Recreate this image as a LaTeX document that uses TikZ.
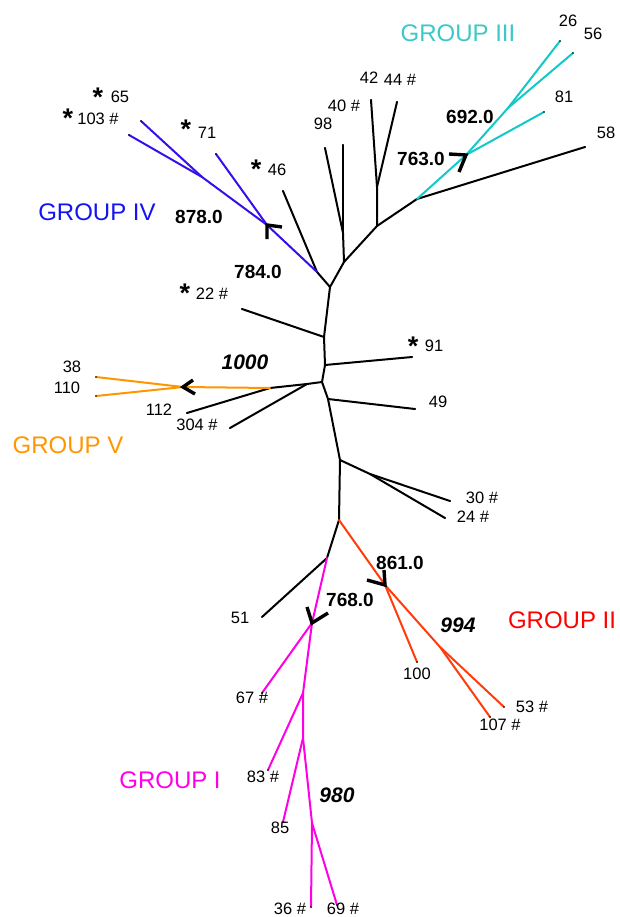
\documentclass[tikz,border=0pt]{standalone}
\usepackage{fontspec}
\usetikzlibrary{calc}
\setmainfont{Liberation Sans}
\definecolor{gIV}{RGB}{55,15,235}
\definecolor{gIVt}{RGB}{20,20,240}
\definecolor{gIII}{RGB}{20,200,200}
\definecolor{gIIIt}{RGB}{60,200,200}
\definecolor{gV}{RGB}{255,150,0}
\definecolor{gII}{RGB}{255,60,10}
\definecolor{gIIt}{RGB}{255,0,0}
\definecolor{gI}{RGB}{255,0,230}
\newcommand\lfnt{\fontsize{16.5}{16.5}\selectfont}
\newcommand\gfnt{\fontsize{24}{24}\selectfont}
\newcommand\bfnt{\fontsize{19}{19}\bfseries\selectfont}
\newcommand\bifnt{\fontsize{21}{21}\bfseries\itshape\selectfont}
\newcommand\astfnt{\fontsize{27}{27}\bfseries\selectfont}
\tikzset{
  br/.style={line width=2pt, line join=round, line cap=round},
  mk/.style={line width=3.4pt, line join=miter, black},
  leaf/.style={inner sep=0pt, font=\lfnt},
  grp/.style={inner sep=0pt, font=\gfnt},
  supv/.style={inner sep=0pt, font=\bfnt},
  supi/.style={inner sep=0pt, font=\bifnt},
  ast/.style={inner sep=0pt, font=\astfnt, anchor=base},
  tip/.style={circle, fill=black, inner sep=0pt, minimum size=1.6pt}
}
\begin{document}
\begin{tikzpicture}[x=1pt,y=-1pt]
\useasboundingbox (0,0) rectangle (619,917);
% ---- internal nodes
\coordinate (A) at (330,287);
\coordinate (B) at (317,272);
\coordinate (C) at (344,262);
\coordinate (D) at (343,233);
\coordinate (E) at (377,226);
\coordinate (F) at (377,187);
\coordinate (G) at (417,199);
\coordinate (H) at (324,337);
\coordinate (I) at (325,365);
\coordinate (J) at (322,382);
\coordinate (K) at (307,384);
\coordinate (M) at (270,388);
\coordinate (N) at (183,387);
\coordinate (O) at (328,399);
\coordinate (P) at (340,460);
\coordinate (Q) at (370,474);
\coordinate (R) at (339,520);
\coordinate (S) at (327,558);
\coordinate (T) at (312,623);
\coordinate (U) at (303,693);
\coordinate (V) at (303,738);
\coordinate (W) at (312,823);
\coordinate (X) at (385,585);
\coordinate (Y) at (440,647);
\coordinate (Z) at (267,225);
\coordinate (ZZ) at (202,177);
\coordinate (AA) at (466,155);
\coordinate (BB) at (508,108);
% ---- leaves
\coordinate (l46) at (283,191);
\coordinate (l98) at (325,148);
\coordinate (l40) at (343,145);
\coordinate (l42) at (371,100);
\coordinate (l44) at (397,102);
\coordinate (l58) at (585,147);
\coordinate (l22) at (242,309);
\coordinate (l91) at (412,357);
\coordinate (l304) at (230,428);
\coordinate (l112) at (187,413);
\coordinate (l38) at (96,377);
\coordinate (l110) at (96,396);
\coordinate (l49) at (415,409);
\coordinate (l30) at (450,501);
\coordinate (l24) at (445,518);
\coordinate (l51) at (262,617);
\coordinate (l67) at (262,693);
\coordinate (l83) at (268,770);
\coordinate (l85) at (283,822);
\coordinate (l36) at (311,907);
\coordinate (l69) at (337,905);
\coordinate (l100) at (417,662);
\coordinate (l53) at (504,707);
\coordinate (l107) at (490,717);
\coordinate (l71) at (216,154);
\coordinate (l65) at (141,121);
\coordinate (l103) at (129,135);
\coordinate (l81) at (544,112);
\coordinate (l26) at (560,41);
\coordinate (l56) at (573,53);
% ---- black branches
\draw[br] (B) -- (A) -- (C) -- (D);
\draw[br] (B) -- (l46);
\draw[br] (D) -- (l98);
\draw[br] (D) -- (l40);
\draw[br] (C) -- (E) -- (F) -- (l42);
\draw[br] (F) -- (l44);
\draw[br] (E) -- (G) -- (l58);
\draw[br] (A) -- (H) -- (I) -- (J) -- (O) -- (P) -- (R) -- (S) -- (l51);
\draw[br] (H) -- (l22);
\draw[br] (I) -- (l91);
\draw[br] (J) -- (K) -- (M) -- (l112);
\draw[br] (K) -- (l304);
\draw[br] (O) -- (l49);
\draw[br] (P) -- (Q) -- (l30);
\draw[br] (Q) -- (l24);
% ---- group IV (blue)
\draw[br, gIV] (B) -- (Z) -- (ZZ) -- (l65);
\draw[br, gIV] (ZZ) -- (l103);
\draw[br, gIV] (Z) -- (l71);
% ---- group III (cyan)
\draw[br, gIII] (G) -- (AA) -- (BB) -- (l26);
\draw[br, gIII] (BB) -- (l56);
\draw[br, gIII] (AA) -- (l81);
% ---- group V (orange)
\draw[br, gV] (M) -- (N) -- (l38);
\draw[br, gV] (N) -- (l110);
% ---- group II (red-orange)
\draw[br, gII] (R) -- (X) -- (Y) -- (l53);
\draw[br, gII] (Y) -- (l107);
\draw[br, gII] (X) -- (l100);
% ---- group I (magenta)
\draw[br, gI] (S) -- (T) -- (U) -- (V) -- (W) -- (l36);
\draw[br, gI] (W) -- (l69);
\draw[br, gI] (T) -- (l67);
\draw[br, gI] (U) -- (l83);
\draw[br, gI] (V) -- (l85);
% ---- leaf tips
\foreach \t in {l46,l98,l40,l42,l44,l58,l22,l91,l304,l112,l38,l110,l49,l30,l24,l51,l67,l83,l85,l36,l69,l100,l53,l107,l71,l65,l103,l81,l26,l56}
  \node[tip] at (\t) {};
% ---- support markers
\draw[mk] ($(AA)+(-17,-1)$) -- (AA) -- ($(AA)+(-7,17)$);
\draw[mk] ($(Z)+(0,14)$) -- (Z) -- ($(Z)+(15,2)$);
\draw[mk] ($(N)+(10,-7)$) -- (N) -- ($(N)+(12,7)$);
\draw[mk] ($(X)+(-1,-15)$) -- (X) -- ($(X)+(-18,-5)$);
\draw[mk] ($(T)+(-5,-16)$) -- (T) -- ($(T)+(16,-10)$);
% ---- leaf labels
\node[leaf] (t26) at (568,21) {26};
\node[leaf] (t56) at (593,34) {56};
\node[leaf] (t42) at (369,78) {42};
\node[leaf] (t44) at (400,80) {44 \#};
\node[leaf] (t40) at (344,106) {40 \#};
\node[leaf] (t98) at (323,124) {98};
\node[leaf] (t81) at (564,97) {81};
\node[leaf] (t58) at (606,133) {58};
\node[leaf] (t65) at (120,97) {65};
\node[leaf] (t103) at (98,119) {103 \#};
\node[leaf] (t71) at (207,133) {71};
\node[leaf] (t46) at (277,170) {46};
\node[leaf] (t22) at (212,294) {22 \#};
\node[leaf] (t91) at (434,346) {91};
\node[leaf] (t38) at (72,367) {38};
\node[leaf] (t110) at (67,388) {110};
\node[leaf] (t112) at (159,410) {112};
\node[leaf] (t304) at (197,425) {304 \#};
\node[leaf] (t49) at (438,402) {49};
\node[leaf] (t30) at (482,498) {30 \#};
\node[leaf] (t24) at (473,517) {24 \#};
\node[leaf] (t51) at (240,618) {51};
\node[leaf] (t100) at (417,674) {100};
\node[leaf] (t53) at (532,707) {53 \#};
\node[leaf] (t107) at (500,725) {107 \#};
\node[leaf] (t67) at (252,698) {67 \#};
\node[leaf] (t83) at (263,777) {83 \#};
\node[leaf] (t85) at (280,828) {85};
\node[leaf] (t36) at (290,909) {36 \#};
\node[leaf] (t69) at (343,909) {69 \#};
% ---- asterisks
\node[ast] (a65) at (98,107) {*};
\node[ast] (a103) at (68,128) {*};
\node[ast] (a71) at (186,139) {*};
\node[ast] (a46) at (256,179) {*};
\node[ast] (a22) at (185,302) {*};
\node[ast] (a91) at (413,355) {*};
% ---- support values
\node[supv] (s692) at (470,117) {692.0};
\node[supv] (s763) at (421,159) {763.0};
\node[supv] (s878) at (199,217) {878.0};
\node[supv] (s784) at (258,272) {784.0};
\node[supv] (s861) at (400,563) {861.0};
\node[supv] (s768) at (350,600) {768.0};
\node[supi] (s1000) at (245,362) {1000};
\node[supi] (s994) at (458,625) {994};
\node[supi] (s980) at (337,795) {980};
% ---- group labels
\node[grp, text=gIIIt] (gIIIl) at (458,33) {GROUP III};
\node[grp, text=gIVt] (gIVl) at (97,212) {GROUP IV};
\node[grp, text=gV] (gVl) at (68,445) {GROUP V};
\node[grp, text=gIIt] (gIIl) at (562,620) {GROUP II};
\node[grp, text=gI] (gIl) at (170,780) {GROUP I};
\end{tikzpicture}
\end{document}
